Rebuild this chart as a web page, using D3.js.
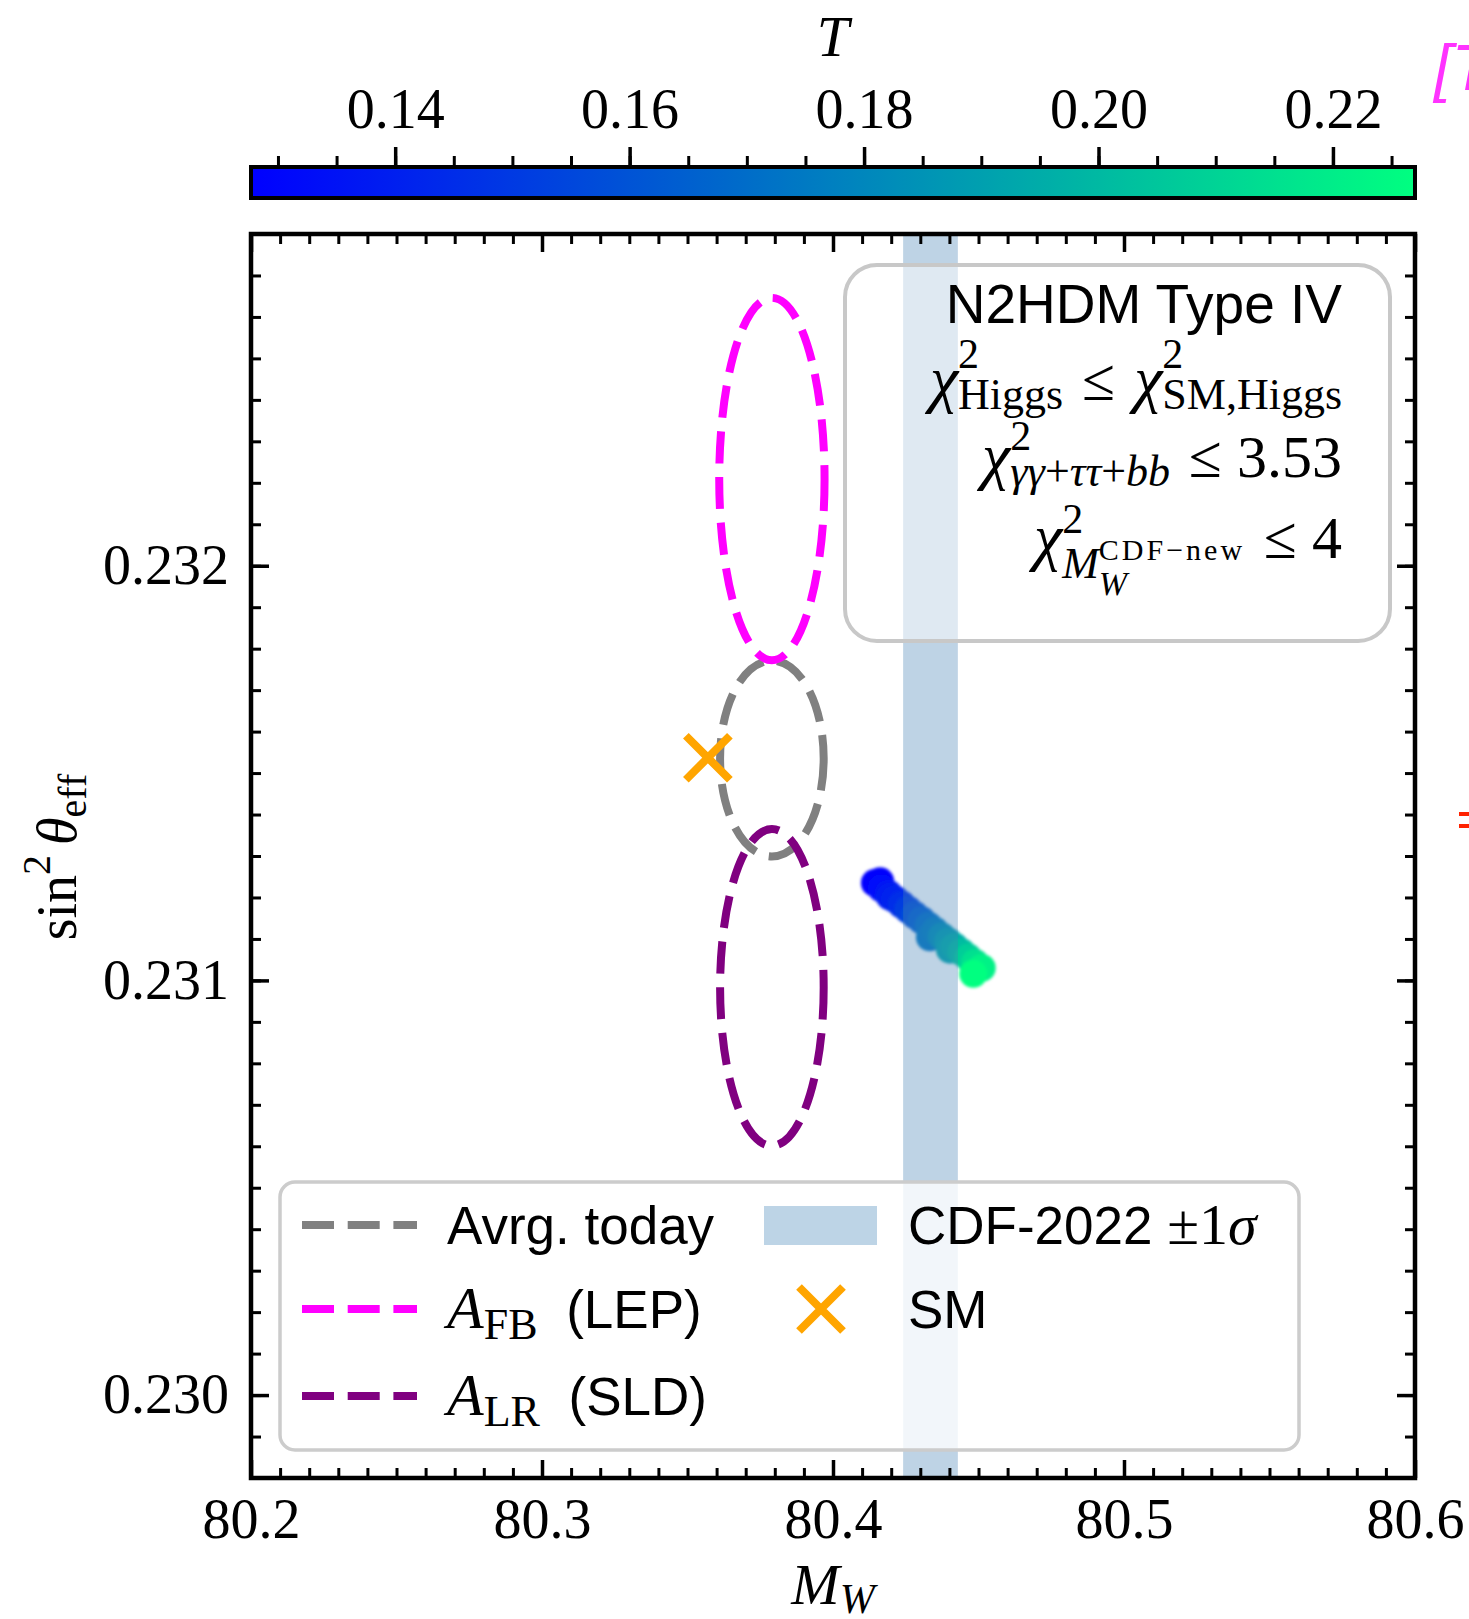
<!DOCTYPE html>
<html>
<head>
<meta charset="utf-8">
<script src="https://cdn.jsdelivr.net/npm/d3@7"></script>
<style>
  body { margin: 0; background: #fff; }
  svg { display: block; }
  text { white-space: pre; }
</style>
</head>
<body>
<svg id="chart"></svg>
<script>
// ---- data ----
var xDomain = [80.2, 80.6];
var yDomain = [0.2298, 0.2328];
var tDomain = [0.1277, 0.2270];
var xTicks = [80.2, 80.3, 80.4, 80.5, 80.6];
var yTicks = [0.230, 0.231, 0.232];
var tTicks = [0.14, 0.16, 0.18, 0.20, 0.22];

// measurement contours (centre and half widths)
var contourNames = ["Avrg. today", "A_FB (LEP)", "A_LR (SLD)"];
var contourColors = ["#808080", "#ff00ff", "#800080"];
var contourMW = [80.379, 80.379, 80.379];
var contourSin = [0.231535, 0.232209, 0.230983];
var contourDMW = [0.0178, 0.0181, 0.0178];
var contourDSin = [0.000236, 0.000437, 0.000382];

var smPoint = [80.357, 0.231537];
var cdfBand = [80.4241, 80.4429];

// N2HDM type IV scan points
var scanMW  = [80.4144, 80.4162, 80.4167, 80.4190, 80.4196, 80.4213, 80.4236, 80.4259, 80.4282, 80.4305, 80.4328,
               80.4333, 80.4351, 80.4374, 80.4396, 80.4402, 80.4419, 80.4442, 80.4465, 80.4488, 80.4511, 80.4482];
var scanSin = [0.231235, 0.231239, 0.231222, 0.231209, 0.231202, 0.231196, 0.231183, 0.231170, 0.231157, 0.231145, 0.231132,
               0.231104, 0.231119, 0.231106, 0.231094, 0.231074, 0.231081, 0.231068, 0.231055, 0.231042, 0.231030, 0.231016];
var scanT   = [0.128, 0.130, 0.131, 0.136, 0.139, 0.141, 0.146, 0.152, 0.158, 0.164, 0.170,
               0.174, 0.176, 0.183, 0.189, 0.192, 0.195, 0.201, 0.208, 0.215, 0.222, 0.227];

// ---- layout ----
var W = 1469, H = 1619;
var pL = 251, pR = 1415, pT = 234, pB = 1478;
var cbTop = 167, cbBottom = 198;
var serif = "'Liberation Serif', 'DejaVu Serif', serif";
var sans = "'Liberation Sans', Arial, sans-serif";
var bandColor = "#bdd4e6";

var svg = d3.select("#chart").attr("width", W).attr("height", H);

var x = d3.scaleLinear().domain(xDomain).range([pL, pR]);
var y = d3.scaleLinear().domain(yDomain).range([pB, pT]);
var tx = d3.scaleLinear().domain(tDomain).range([pL, pR]);
var color = d3.scaleLinear().domain(tDomain).range(["#0000ff", "#00ff80"]);

// text with sub/superscripts: o = offset above baseline
function mathText(sel, px, py, anchor, parts) {
  var t = sel.append("text").attr("x", px).attr("y", py).attr("text-anchor", anchor).attr("fill", "#000");
  var cur = 0, prev = null, skipped = 0;
  parts.forEach(function(p) {
    var o = p.o || 0;
    var ts = t.append("tspan")
      .attr("font-family", p.f || serif)
      .attr("font-size", p.s || 60)
      .attr("font-style", p.i ? "italic" : "normal")
      .attr("dy", cur - o)
      .text(p.t);
    if (p.ls) ts.attr("letter-spacing", p.ls);
    var dx = p.dx || 0;
    if (p.back && prev) {
      skipped = prev.node().getComputedTextLength();
      dx -= skipped;
    }
    if (p.resume && prev) dx += Math.max(0, skipped - prev.node().getComputedTextLength());
    if (dx) ts.attr("dx", dx);
    cur = o;
    prev = ts;
  });
  return t;
}

// ---- colorbar ----
var defs = svg.append("defs");
var grad = defs.append("linearGradient").attr("id", "cbgrad");
d3.range(0, 1.0001, 0.1).forEach(function(f) {
  var v = tDomain[0] + f * (tDomain[1] - tDomain[0]);
  grad.append("stop").attr("offset", f).attr("stop-color", color(v));
});
defs.append("filter").attr("id", "soft")
  .append("feGaussianBlur").attr("stdDeviation", 1.5);
defs.append("clipPath").attr("id", "plotclip")
  .append("rect").attr("x", pL).attr("y", pT).attr("width", pR - pL).attr("height", pB - pT);

svg.append("rect")
  .attr("x", pL).attr("y", cbTop).attr("width", pR - pL).attr("height", cbBottom - cbTop)
  .attr("fill", "url(#cbgrad)").attr("stroke", "#000").attr("stroke-width", 4);

svg.append("g").attr("transform", "translate(0," + (cbTop - 2) + ")")
  .call(d3.axisTop(tx).tickValues(tx.ticks(20)).tickSize(9).tickFormat(""))
  .call(function(g) { g.select(".domain").remove(); g.selectAll("line").attr("stroke-width", 3); });

svg.append("g").attr("transform", "translate(0," + (cbTop - 2) + ")")
  .call(d3.axisTop(tx).tickValues(tTicks).tickSize(18).tickPadding(19).tickFormat(d3.format(".2f")))
  .call(function(g) {
    g.select(".domain").remove();
    g.selectAll("line").attr("stroke-width", 3.5);
    g.selectAll("text").attr("font-family", serif).attr("font-size", 56).attr("fill", "#000");
  });

mathText(svg, (pL + pR) / 2, 56, "middle", [{t: "T", i: 1, s: 58}]);

// ---- plot contents ----
var plot = svg.append("g").attr("clip-path", "url(#plotclip)");

var order = d3.range(scanT.length).sort(function(a, b) { return scanT[a] - scanT[b]; });
plot.append("g").attr("filter", "url(#soft)")
  .selectAll("circle")
  .data(order)
  .enter()
  .append("circle")
  .attr("cx", function(i) { return x(scanMW[i]); })
  .attr("cy", function(i) { return y(scanSin[i]); })
  .attr("r", 14)
  .attr("fill", function(i) { return color(scanT[i]); });

plot.append("rect")
  .attr("x", x(cdfBand[0])).attr("width", x(cdfBand[1]) - x(cdfBand[0]))
  .attr("y", pT).attr("height", pB - pT)
  .attr("fill", "steelblue").attr("fill-opacity", 0.35);

plot.append("g")
  .selectAll("ellipse")
  .data(d3.range(contourNames.length))
  .enter()
  .append("ellipse")
  .attr("cx", function(i) { return x(contourMW[i]); })
  .attr("cy", function(i) { return y(contourSin[i]); })
  .attr("rx", function(i) { return x(contourMW[i] + contourDMW[i]) - x(contourMW[i]); })
  .attr("ry", function(i) { return y(contourSin[i]) - y(contourSin[i] + contourDSin[i]); })
  .attr("fill", "none")
  .attr("stroke", function(i) { return contourColors[i]; })
  .attr("stroke-width", 8)
  .attr("stroke-dasharray", "32,13.7");

function cross(sel, cx, cy) {
  var s = 22;
  sel.append("path")
    .attr("d", "M" + (cx - s) + "," + (cy - s) + "L" + (cx + s) + "," + (cy + s) +
               "M" + (cx - s) + "," + (cy + s) + "L" + (cx + s) + "," + (cy - s))
    .attr("stroke", "#ffa500").attr("stroke-width", 8).attr("fill", "none");
}
cross(plot, x(smPoint[0]), y(smPoint[1]));

// ---- axes (ticks inside on all four sides) ----
function tickStyle(w) {
  return function(g) {
    g.select(".domain").remove();
    g.selectAll("line").attr("stroke-width", w);
    g.selectAll("text").attr("font-family", serif).attr("font-size", 56).attr("fill", "#000");
  };
}
var xMinor = x.ticks(40), yMinor = y.ticks(30);

svg.append("g").attr("transform", "translate(0," + pB + ")")
  .call(d3.axisBottom(x).tickValues(xMinor).tickSize(-10).tickFormat("")).call(tickStyle(3));
svg.append("g").attr("transform", "translate(0," + pB + ")")
  .call(d3.axisBottom(x).tickValues(xTicks).tickSize(-18).tickPadding(20).tickFormat(d3.format(".1f"))).call(tickStyle(3.5));
svg.append("g").attr("transform", "translate(0," + pT + ")")
  .call(d3.axisTop(x).tickValues(xMinor).tickSize(-10).tickFormat("")).call(tickStyle(3));
svg.append("g").attr("transform", "translate(0," + pT + ")")
  .call(d3.axisTop(x).tickValues(xTicks).tickSize(-18).tickFormat("")).call(tickStyle(3.5));

svg.append("g").attr("transform", "translate(" + pL + ",0)")
  .call(d3.axisLeft(y).tickValues(yMinor).tickSize(-10).tickFormat("")).call(tickStyle(3));
svg.append("g").attr("transform", "translate(" + pL + ",0)")
  .call(d3.axisLeft(y).tickValues(yTicks).tickSize(-18).tickPadding(22).tickFormat(d3.format(".3f"))).call(tickStyle(3.5));
svg.append("g").attr("transform", "translate(" + pR + ",0)")
  .call(d3.axisRight(y).tickValues(yMinor).tickSize(-10).tickFormat("")).call(tickStyle(3));
svg.append("g").attr("transform", "translate(" + pR + ",0)")
  .call(d3.axisRight(y).tickValues(yTicks).tickSize(-18).tickFormat("")).call(tickStyle(3.5));

svg.append("rect")
  .attr("x", pL).attr("y", pT).attr("width", pR - pL).attr("height", pB - pT)
  .attr("fill", "none").attr("stroke", "#000").attr("stroke-width", 4.5);

// axis titles
mathText(svg, (pL + pR) / 2, 1604, "middle", [{t: "M", i: 1, s: 58}, {t: "W", i: 1, s: 42, o: -9}]);
mathText(svg, 0, 0, "middle", [
  {t: "sin", s: 56}, {t: "2", s: 40, o: 26}, {t: "θ", i: 1, s: 56, dx: 10}, {t: "eff", s: 40, o: -10}
]).attr("transform", "translate(76,857) rotate(-90)").attr("x", null).attr("y", null);

// ---- info box ----
svg.append("rect")
  .attr("x", 845).attr("y", 265).attr("width", 545).attr("height", 376).attr("rx", 32)
  .attr("fill", "#fff").attr("fill-opacity", 0.5)
  .attr("stroke", "#c8c8c8").attr("stroke-width", 4);

var bx = 1342;
svg.append("text").attr("x", bx).attr("y", 323).attr("text-anchor", "end")
  .attr("font-family", sans).attr("font-size", 55).text("N2HDM Type IV");
mathText(svg, bx, 400, "end", [
  {t: "χ", i: 1, s: 64}, {t: "2", s: 42, o: 32}, {t: "Higgs", s: 44, o: -9, back: 1},
  {t: " ≤ ", dx: 4}, {t: "χ", i: 1, s: 64, dx: 4}, {t: "2", s: 42, o: 32}, {t: "SM,Higgs", s: 44, o: -9, back: 1}
]);
mathText(svg, bx, 477, "end", [
  {t: "χ", i: 1, s: 64}, {t: "2", s: 42, o: 27}, {t: "γγ", s: 44, o: -9, i: 1, back: 1},
  {t: "+", s: 44, o: -9}, {t: "ττ", s: 44, o: -9, i: 1}, {t: "+", s: 44, o: -9}, {t: "bb", s: 44, o: -9, i: 1},
  {t: " ≤ 3.53", dx: 4}
]);
mathText(svg, bx, 558, "end", [
  {t: "χ", i: 1, s: 64}, {t: "2", s: 42, o: 25}, {t: "M", s: 44, o: -20, i: 1, back: 1},
  {t: "CDF−new", s: 30, o: -2, ls: 3}, {t: "W", s: 34, o: -37, i: 1, back: 1},
  {t: " ≤ 4", resume: 1, dx: 4}
]);

// ---- legend ----
var lg = svg.append("g");
lg.append("rect")
  .attr("x", 280).attr("y", 1182).attr("width", 1019).attr("height", 268).attr("rx", 15)
  .attr("fill", "#fff").attr("fill-opacity", 0.8)
  .attr("stroke", "#cccccc").attr("stroke-width", 3.5);

var rowY = [1225, 1309, 1396];
lg.selectAll("line.h")
  .data(d3.range(contourNames.length))
  .enter()
  .append("line")
  .attr("x1", 302).attr("x2", 417)
  .attr("y1", function(i) { return rowY[i]; }).attr("y2", function(i) { return rowY[i]; })
  .attr("stroke", function(i) { return contourColors[i]; })
  .attr("stroke-width", 8).attr("stroke-dasharray", "32,13.7");

lg.append("text").attr("x", 447).attr("y", rowY[0] + 19)
  .attr("font-family", sans).attr("font-size", 53).text("Avrg. today");
mathText(lg, 447, rowY[1] + 19, "start", [
  {t: "A", i: 1, s: 60}, {t: "FB", s: 44, o: -11}, {t: " (LEP)", f: sans, s: 53, dx: 14}
]);
mathText(lg, 447, rowY[2] + 19, "start", [
  {t: "A", i: 1, s: 60}, {t: "LR", s: 44, o: -11}, {t: " (SLD)", f: sans, s: 53, dx: 14}
]);

lg.append("rect").attr("x", 764).attr("y", 1206).attr("width", 113).attr("height", 39).attr("fill", bandColor);
mathText(lg, 908, rowY[0] + 19, "start", [
  {t: "CDF-2022 ", f: sans, s: 53}, {t: "±1", s: 58}, {t: "σ", i: 1, s: 58}
]);
cross(lg, 821, rowY[1]);
lg.append("text").attr("x", 908).attr("y", rowY[1] + 19)
  .attr("font-family", sans).attr("font-size", 53).text("SM");

// fragments of the neighbouring panel at the right edge
svg.append("text").attr("x", 1434).attr("y", 90)
  .attr("font-family", sans).attr("font-style", "italic").attr("font-size", 64)
  .attr("fill", "#ff33ff").text("[T");
svg.append("rect").attr("x", 1459).attr("y", 812).attr("width", 10).attr("height", 4).attr("fill", "#ff2200");
svg.append("rect").attr("x", 1459).attr("y", 824).attr("width", 10).attr("height", 4).attr("fill", "#ff2200");
</script>
</body>
</html>
